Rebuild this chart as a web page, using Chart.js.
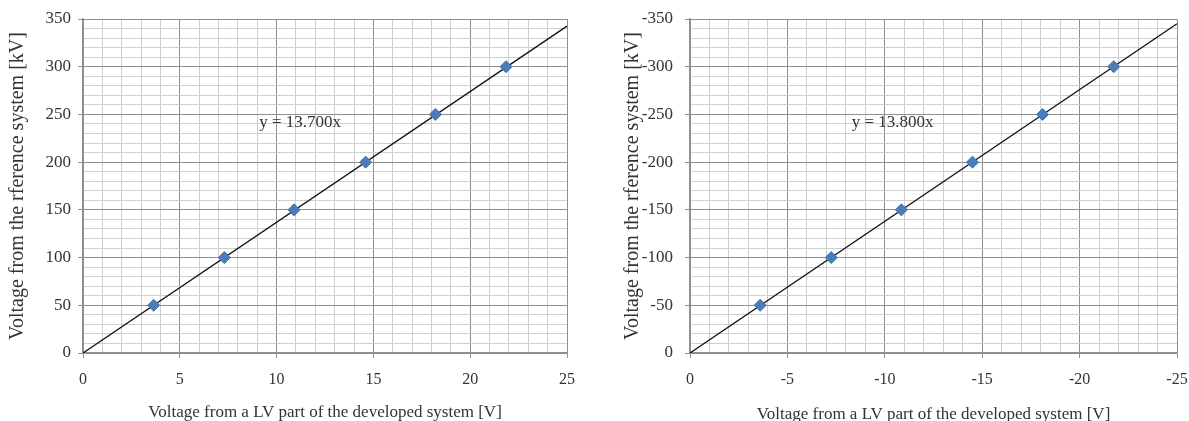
<!DOCTYPE html>
<html>
<head>
<meta charset="utf-8">
<script src="https://cdn.jsdelivr.net/npm/chart.js@4.4.0/dist/chart.umd.min.js"></script>
<style>
  html, body { margin: 0; padding: 0; background: #fff; }
  #wrap { position: relative; width: 1189px; height: 421px; }
  .box { position: absolute; top: 0; height: 421px; }
  #left { left: 0; width: 595px; }
  #right { left: 595px; width: 594px; }
</style>
</head>
<body>
<div id="wrap">
  <div class="box" id="left"><canvas id="posChart"></canvas></div>
  <div class="box" id="right"><canvas id="negChart"></canvas></div>
</div>
<script>
// Positive polarity measurements
const posLV = [3.65, 7.3, 10.9, 14.6, 18.2, 21.85];
const posRef = [50, 100, 150, 200, 250, 300];
const posTrendX = [0, 25];
const posTrendY = [0, 342.5];
const posEquation = 'y = 13.700x';

// Negative polarity measurements
const negLV = [-3.6, -7.25, -10.85, -14.5, -18.1, -21.75];
const negRef = [-50, -100, -150, -200, -250, -300];
const negTrendX = [0, -25];
const negTrendY = [0, -345];
const negEquation = 'y = 13.800x';

const xTitle = 'Voltage from a LV part of the developed system [V]';
const yTitle = 'Voltage from the rference system [kV]';

const FONT = '"Liberation Serif", "Times New Roman", serif';
const MINOR = '#cfcfcf';
const MAJOR = '#8f8f8f';

function toPoints(xs, ys) {
    return xs.map((x, i) => ({ x: x, y: ys[i] }));
}

// draws the trendline equation text
const equationPlugin = {
    id: 'equation',
    afterDatasetsDraw(chart, args, opts) {
        const ctx = chart.ctx;
        const px = chart.scales.x.getPixelForValue(opts.x);
        const py = chart.scales.y.getPixelForValue(opts.y);
        ctx.save();
        ctx.font = '17px ' + FONT;
        ctx.fillStyle = '#333';
        ctx.textBaseline = 'middle';
        ctx.textAlign = 'left';
        ctx.fillText(opts.text, px, py);
        ctx.restore();
    }
};

function makeChart(id, cfg) {
    const ctx = document.getElementById(id).getContext('2d');
    return new Chart(ctx, {
        type: 'scatter',
        data: {
            datasets: [{
                label: 'Trend',
                data: toPoints(cfg.trendX, cfg.trendY),
                showLine: true,
                borderColor: '#111',
                borderWidth: 1.3,
                pointRadius: 0,
                order: 2
            }, {
                label: 'Measured',
                data: toPoints(cfg.lv, cfg.ref),
                pointStyle: 'rectRot',
                pointRadius: 6,
                backgroundColor: '#4a7ebb',
                borderColor: '#3f6fa8',
                borderWidth: 1,
                order: 1
            }]
        },
        options: {
            responsive: false,
            animation: false,
            events: [],
            layout: {
                padding: { left: 0, top: 19, right: cfg.padRight, bottom: 0 }
            },
            plugins: {
                legend: { display: false },
                tooltip: { enabled: false },
                equation: { text: cfg.equation, x: cfg.eqX, y: cfg.eqY }
            },
            scales: {
                x: {
                    type: 'linear',
                    min: cfg.xMin,
                    max: cfg.xMax,
                    reverse: cfg.reverse,
                    afterFit: (scale) => {
                        scale.height = 68;
                        scale.paddingLeft = 0;
                        scale.paddingRight = 0;
                    },
                    ticks: {
                        stepSize: 1,
                        autoSkip: false,
                        maxRotation: 0,
                        padding: 12,
                        color: '#333',
                        font: { family: FONT, size: 16 },
                        callback: (v) => (v % 5 === 0 ? String(v) : '')
                    },
                    grid: {
                        color: (c) => (c.tick && c.tick.value % 5 === 0 ? MAJOR : MINOR),
                        tickColor: (c) => (c.tick && c.tick.value % 5 === 0 ? MAJOR : 'rgba(0,0,0,0)'),
                        tickLength: 5,
                        lineWidth: 1
                    },
                    border: { color: MAJOR, width: 1.5 },
                    title: {
                        display: true,
                        text: xTitle,
                        color: '#333',
                        font: { family: FONT, size: 17 },
                        padding: { top: 0, bottom: cfg.xTitlePad }
                    }
                },
                y: {
                    type: 'linear',
                    min: cfg.yMin,
                    max: cfg.yMax,
                    reverse: cfg.reverse,
                    afterFit: (scale) => {
                        scale.width = cfg.yWidth;
                        scale.paddingTop = 0;
                        scale.paddingBottom = 0;
                    },
                    ticks: {
                        stepSize: 10,
                        autoSkip: false,
                        padding: cfg.yTickPad,
                        color: '#333',
                        font: { family: FONT, size: 17 },
                        callback: (v) => (v % 50 === 0 ? String(v) : '')
                    },
                    grid: {
                        color: (c) => (c.tick && c.tick.value % 50 === 0 ? MAJOR : MINOR),
                        tickColor: (c) => (c.tick && c.tick.value % 50 === 0 ? MAJOR : 'rgba(0,0,0,0)'),
                        tickLength: 5,
                        lineWidth: 1
                    },
                    border: { color: MAJOR, width: 1.5 },
                    title: {
                        display: true,
                        text: yTitle,
                        color: '#333',
                        font: { family: FONT, size: 20 },
                        padding: { top: cfg.yTitlePad, bottom: 0 }
                    }
                }
            }
        },
        plugins: [equationPlugin]
    });
}

function sizeCanvas(id, w, h) {
    const c = document.getElementById(id);
    c.width = w;
    c.height = h;
    c.style.width = w + 'px';
    c.style.height = h + 'px';
}

sizeCanvas('posChart', 595, 421);
sizeCanvas('negChart', 594, 421);

makeChart('posChart', {
    lv: posLV, ref: posRef, trendX: posTrendX, trendY: posTrendY,
    equation: posEquation, eqX: 9.1, eqY: 241,
    xMin: 0, xMax: 25, yMin: 0, yMax: 350, reverse: false,
    padRight: 28, yWidth: 83, yTickPad: 7, yTitlePad: 6, xTitlePad: -2
});

makeChart('negChart', {
    lv: negLV, ref: negRef, trendX: negTrendX, trendY: negTrendY,
    equation: negEquation, eqX: -8.3, eqY: -241,
    xMin: -25, xMax: 0, yMin: -350, yMax: 0, reverse: true,
    padRight: 12, yWidth: 95, yTickPad: 12, yTitlePad: 26, xTitlePad: -4
});
</script>
</body>
</html>
